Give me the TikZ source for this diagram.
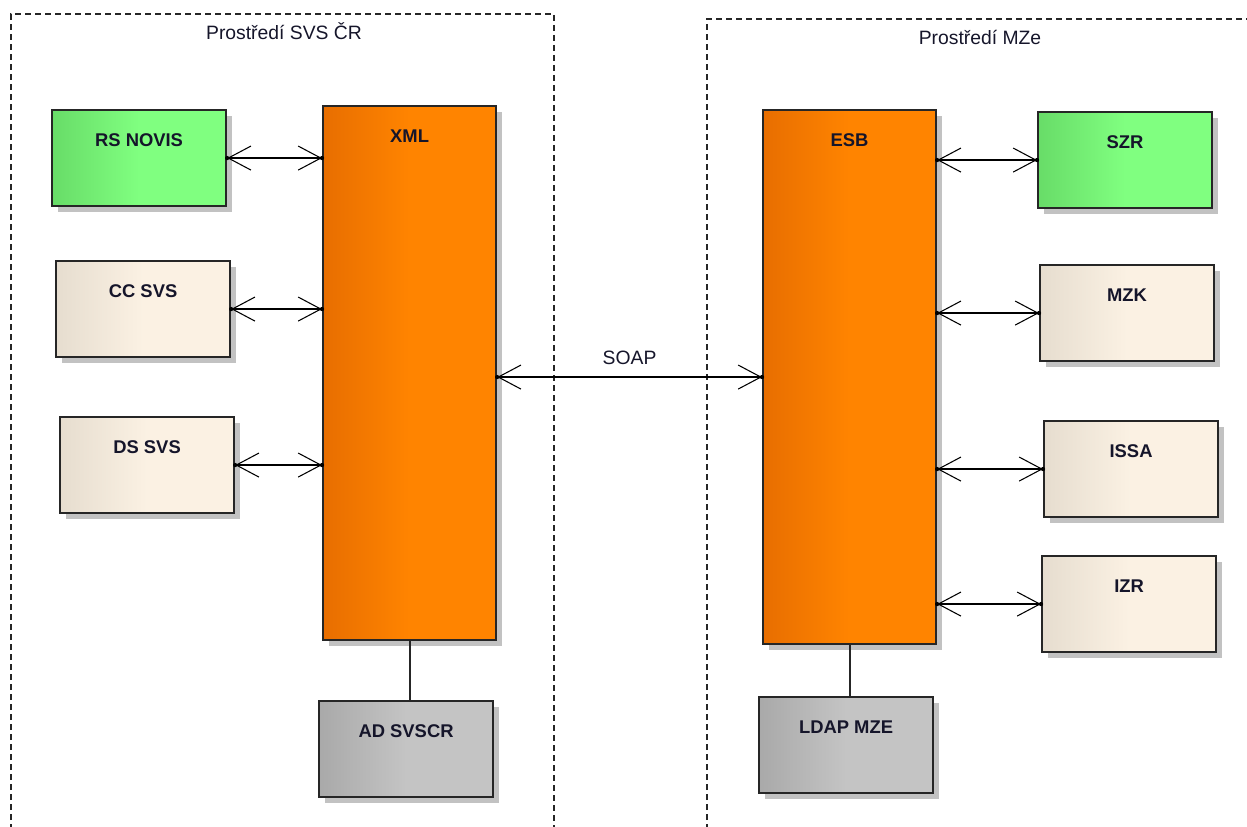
\documentclass[tikz,border=0pt]{standalone}
\usepackage{fontspec}
\setmainfont{Liberation Sans}
\usetikzlibrary{arrows.meta,shadows}
\definecolor{txtc}{HTML}{15152A}
\definecolor{gL}{HTML}{68DC68}
\definecolor{gR}{HTML}{80FF80}
\definecolor{oL}{HTML}{E86E00}
\definecolor{oR}{HTML}{FF8400}
\definecolor{bL}{HTML}{E6DDCF}
\definecolor{bR}{HTML}{FBF1E3}
\definecolor{sL}{HTML}{A9A9A9}
\definecolor{sR}{HTML}{C4C4C4}
\begin{document}
\begin{tikzpicture}[x=0.75pt,y=-0.75pt,
  box/.style={draw=black!85, line width=1.6pt, rectangle, anchor=north west,
    minimum width=130.5pt, minimum height=72pt, inner sep=0pt,
    text height=27pt, text depth=45pt, text=txtc,
    font=\bfseries\fontsize{13.8}{16}\selectfont,
    general shadow={fill=black!24, shadow xshift=4.5pt, shadow yshift=-4.5pt}},
  tallbox/.style={box, minimum width=129.75pt, minimum height=400.5pt, text depth=373.5pt},
  fgreen/.style={left color=gL, right color=gR, middle color=gR},
  forange/.style={left color=oL, right color=oR, middle color=oR},
  fbeige/.style={left color=bL, right color=bR, middle color=bR},
  fgrey/.style={left color=sL, right color=sR, middle color=sR},
  frame/.style={dash pattern=on 4.5pt off 3pt, line width=1pt, black!85},
  lbl/.style={anchor=base, text=txtc, font=\fontsize{14.5}{17}\selectfont, inner sep=0pt},
  biarrow/.style={{Straight Barb[length=17pt,width=18pt,line width=0.8pt]}-{Straight Barb[length=17pt,width=18pt,line width=0.8pt]}, line width=1.2pt, black},
  plain/.style={line width=1.5pt, black!85}
]
\useasboundingbox (0,0) rectangle (1247,827);
\clip (0,0) rectangle (1247,827);

% frames
\draw[frame] (11,840) -- (11,14) -- (554,14) -- (554,840);
\draw[frame] (707,840) -- (707,19) -- (1260,19);
\node[lbl] (envL) at (284,40) {Prostředí SVS ČR};
\node[lbl] (envR) at (980,45) {Prostředí MZe};

% left side
\node[box,fgreen] (rs) at (51,109) {RS NOVIS};
\node[box,fbeige] (cc) at (55,260) {CC SVS};
\node[box,fbeige] (ds) at (59,416) {DS SVS};
\node[tallbox,forange] (xml) at (322,105) {XML};
\node[box,fgrey] (ad) at (318,700) {AD SVSCR};

% right side
\node[tallbox,forange] (esb) at (762,109) {ESB};
\node[box,fgreen] (szr) at (1037,111) {SZR};
\node[box,fbeige] (mzk) at (1039,264) {MZK};
\node[box,fbeige] (issa) at (1043,420) {ISSA};
\node[box,fbeige] (izr) at (1041,555) {IZR};
\node[box,fgrey] (ldap) at (758,696) {LDAP MZE};

% connectors
\draw[biarrow] (rs.east) -- (rs.east -| xml.west);
\draw[biarrow] (cc.east) -- (cc.east -| xml.west);
\draw[biarrow] (ds.east) -- (ds.east -| xml.west);
\draw[biarrow] (xml.east |- esb.west) -- (esb.west) node[lbl, midway, above=9pt] (soap) {SOAP};
\draw[biarrow] (esb.east |- szr.west) -- (szr.west);
\draw[biarrow] (esb.east |- mzk.west) -- (mzk.west);
\draw[biarrow] (esb.east |- issa.west) -- (issa.west);
\draw[biarrow] (esb.east |- izr.west) -- (izr.west);
\draw[plain] (xml.south) -- (xml.south |- ad.north);
\draw[plain] (esb.south) -- (esb.south |- ldap.north);

% end dots
\foreach \p in {rs.east, cc.east, ds.east, szr.west, mzk.west, issa.west, izr.west, esb.west}
  \fill (\p) circle (1.6pt);
\fill (rs.east -| xml.west) circle (1.6pt);
\fill (cc.east -| xml.west) circle (1.6pt);
\fill (ds.east -| xml.west) circle (1.6pt);
\fill (xml.east |- esb.west) circle (1.6pt);
\fill (esb.east |- szr.west) circle (1.6pt);
\fill (esb.east |- mzk.west) circle (1.6pt);
\fill (esb.east |- issa.west) circle (1.6pt);
\fill (esb.east |- izr.west) circle (1.6pt);
\end{tikzpicture}
\end{document}
